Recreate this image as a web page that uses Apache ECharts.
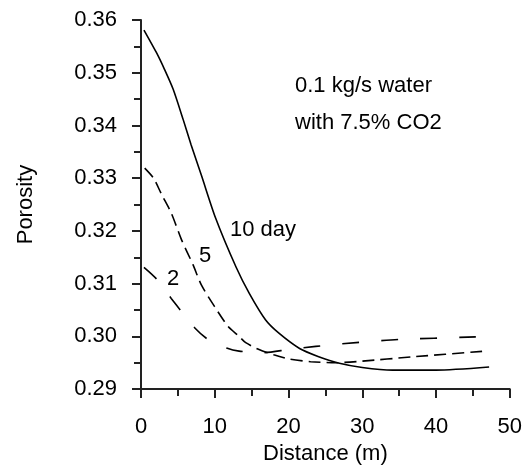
<!DOCTYPE html>
<html><head><meta charset="utf-8">
<script src="https://cdn.jsdelivr.net/npm/echarts@6/dist/echarts.min.js"></script>
<style>html,body{margin:0;padding:0;background:#fff}#c{width:525px;height:470px}</style>
</head><body><div id="c"></div>
<script>
// data
const xTicks = [0, 10, 20, 30, 40, 50];
const yTicks = [0.29, 0.30, 0.31, 0.32, 0.33, 0.34, 0.35, 0.36];
const day10X = [0.4, 2.1, 3.2, 4.35, 5.7, 6.8, 8.2, 10.1, 12.9, 14.7, 16.9, 18.7, 21.5, 24, 26.9, 30, 34.1, 40, 47.2];
const day10Y = [0.3581, 0.3538, 0.3506, 0.3469, 0.3412, 0.3363, 0.3305, 0.3225, 0.3131, 0.3081, 0.3031, 0.3006, 0.2977, 0.2962, 0.2949, 0.2941, 0.2936, 0.2936, 0.2942];
const day5X = [0.5, 1.7, 2.8, 4.1, 5.5, 7.05, 8.2, 10, 11.8, 13.3, 14.2, 16, 18, 20.1, 23, 26.4, 30, 36.7, 46.6];
const day5Y = [0.3319, 0.3300, 0.3269, 0.3234, 0.3183, 0.3136, 0.3097, 0.3056, 0.3019, 0.3000, 0.2988, 0.2975, 0.2965, 0.2957, 0.2952, 0.2950, 0.2953, 0.2961, 0.2972];
const day2X = [0.4, 2.1, 4.1, 5.5, 7.3, 9.1, 11.6, 13.3, 16.5, 20, 23.7, 27.3, 34.9, 45.4];
const day2Y = [0.3131, 0.3109, 0.3072, 0.3047, 0.3016, 0.2994, 0.2978, 0.2972, 0.2969, 0.2975, 0.2981, 0.2986, 0.2994, 0.2999];
const labels = { note1: '0.1 kg/s water', note2: 'with 7.5% CO2', d10: '10 day', d5: '5', d2: '2' };

const zip = (xs, ys) => xs.map((x, i) => [x, ys[i]]);
const FONT = 'Liberation Sans, Arial, sans-serif';
const FS = 22;
const chart = echarts.init(document.getElementById('c'), null, { renderer: 'canvas' });
const lineBase = { type: 'line', showSymbol: false, smooth: 0.25, animation: false };
chart.setOption({
  animation: false,
  grid: { left: 141, top: 20, right: 13, bottom: 77, containLabel: false },
  xAxis: {
    type: 'value', min: xTicks[0], max: xTicks[xTicks.length - 1], interval: 10,
    name: 'Distance (m)', nameLocation: 'middle', nameGap: 48,
    nameTextStyle: { fontFamily: FONT, fontSize: FS, color: '#000' },
    axisLine: { show: true, lineStyle: { color: '#222', width: 2 } },
    axisTick: { show: true, inside: false, length: 9, lineStyle: { color: '#222', width: 2 } },
    minorTick: { show: true, splitNumber: 2, length: 7, lineStyle: { color: '#222', width: 2 } },
    splitLine: { show: false },
    axisLabel: { fontFamily: FONT, fontSize: FS, color: '#000', margin: 27 }
  },
  yAxis: {
    type: 'value', min: yTicks[0], max: yTicks[yTicks.length - 1], interval: 0.01,
    name: 'Porosity', nameLocation: 'middle', nameGap: 104,
    nameTextStyle: { fontFamily: FONT, fontSize: FS, color: '#000' },
    axisLine: { show: true, lineStyle: { color: '#222', width: 2 } },
    axisTick: { show: true, inside: false, length: 9, lineStyle: { color: '#222', width: 2 } },
    minorTick: { show: true, splitNumber: 2, length: 7, lineStyle: { color: '#222', width: 2 } },
    splitLine: { show: false },
    axisLabel: { fontFamily: FONT, fontSize: FS, color: '#000', margin: 24, formatter: v => v.toFixed(2) }
  },
  series: [
    Object.assign({}, lineBase, { name: '10 day', data: zip(day10X, day10Y), lineStyle: { color: '#000', width: 1.6, type: 'solid' } }),
    Object.assign({}, lineBase, { name: '5 day', data: zip(day5X, day5Y), lineStyle: { color: '#000', width: 1.6, type: [12, 6] } }),
    Object.assign({}, lineBase, { name: '2 day', data: zip(day2X, day2Y), lineStyle: { color: '#000', width: 1.6, type: [17, 22] } })
  ],
  graphic: [
    { type: 'text', left: 295, top: 75, style: { text: labels.note1, font: FS + 'px ' + FONT, fill: '#000' } },
    { type: 'text', left: 295, top: 112, style: { text: labels.note2, font: FS + 'px ' + FONT, fill: '#000' } },
    { type: 'text', left: 230, top: 219, style: { text: labels.d10, font: FS + 'px ' + FONT, fill: '#000' } },
    { type: 'text', left: 199, top: 245, style: { text: labels.d5, font: FS + 'px ' + FONT, fill: '#000' } },
    { type: 'text', left: 167, top: 268, style: { text: labels.d2, font: FS + 'px ' + FONT, fill: '#000' } }
  ]
});
</script></body></html>
